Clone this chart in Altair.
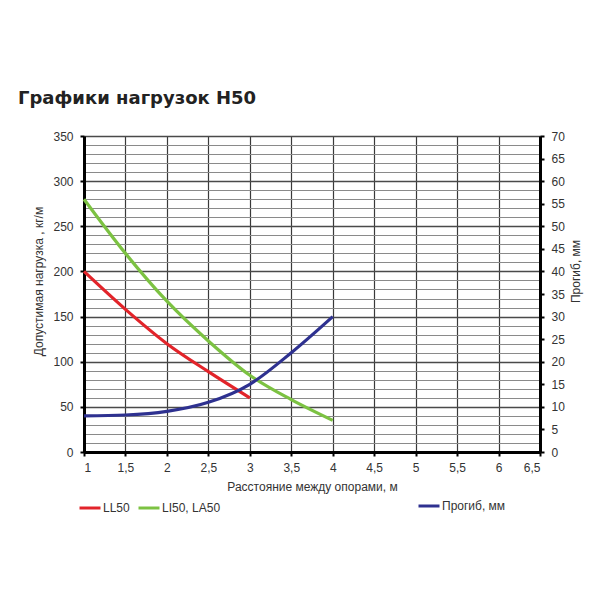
import altair as alt
import pandas as pd

# ---- data ----
x_ll = [1, 1.5, 2, 2.5, 3]
ll50 = [200, 158, 120, 89, 60]

x_li = [1, 1.5, 2, 2.5, 3, 3.5, 4]
li50 = [280, 220, 167, 123, 85, 58, 35]

x_def = [1, 1.5, 2, 2.5, 3, 3.5, 4]
deflection = [8, 8.2, 9, 11, 15, 22, 30]

x_ticks = [1, 1.5, 2, 2.5, 3, 3.5, 4, 4.5, 5, 5.5, 6, 6.5]
left_ticks = list(range(0, 351, 10))
right_ticks = list(range(0, 71, 5))

load_names = ["LL50", "LI50, LA50"]
load_colors = ["#e2242a", "#7cc242"]
def_name = ["Прогиб, мм"]
def_color = ["#2e3190"]

load_df = pd.DataFrame(
    {"x": x_ll + x_li,
     "y": ll50 + li50,
     "series": [load_names[0]] * len(x_ll) + [load_names[1]] * len(x_li)}
)
def_df = pd.DataFrame({"x": x_def, "y": deflection, "series": def_name * len(x_def)})

FONT = "Liberation Sans"
LBL = "#333333"
FS = 12

x_enc = alt.X(
    "x:Q",
    scale=alt.Scale(domain=[1, 6.5], nice=False, zero=False),
    axis=alt.Axis(
        values=x_ticks,
        labelExpr="replace(format(datum.value, '~g'), '.', ',')",
        title="Расстояние между опорами, м",
        grid=True, gridColor="#3a3a3a", gridWidth=1.2,
        domainColor="#000000", domainWidth=3,
        tickColor="#000000", tickWidth=2, tickSize=4,
        labelPadding=6, titlePadding=8,
        labelFont=FONT, labelFontSize=FS, labelColor=LBL,
        titleFont=FONT, titleFontSize=FS, titleFontWeight="normal", titleColor=LBL,
    ),
)

loads = alt.Chart(load_df).mark_line(strokeWidth=3.2, interpolate="monotone").encode(
    x=x_enc,
    y=alt.Y(
        "y:Q",
        scale=alt.Scale(domain=[0, 350], nice=False),
        axis=alt.Axis(
            orient="left",
            values=left_ticks,
            labelExpr="datum.value % 50 === 0 ? datum.label : ''",
            title="Допустимая нагрузка , кг/м",
            titleY=145,
            grid=True,
            gridColor={"condition": {"test": "datum.value % 50 === 0", "value": "#4a4a4a"}, "value": "#8a8a8a"},
            gridWidth={"condition": {"test": "datum.value % 50 === 0", "value": 1.5}, "value": 1.1},
            tickOpacity={"condition": {"test": "datum.value % 50 === 0", "value": 1}, "value": 0},
            domainColor="#000000", domainWidth=3,
            tickColor="#000000", tickWidth=2, tickSize=4,
            labelPadding=7, titlePadding=7,
            labelFont=FONT, labelFontSize=FS, labelColor=LBL,
            titleFont=FONT, titleFontSize=FS, titleFontWeight="normal", titleColor=LBL,
        ),
    ),
    color=alt.Color(
        "series:N",
        scale=alt.Scale(domain=load_names, range=load_colors),
        legend=alt.Legend(
            title=None, orient="none", direction="horizontal",
            legendX=-6, legendY=360,
            symbolType="stroke", symbolSize=441, symbolStrokeWidth=3,
            labelOffset=1, columnPadding=2,
            labelFont=FONT, labelFontSize=FS, labelColor=LBL,
        ),
    ),
)

defl = alt.Chart(def_df).mark_line(strokeWidth=3.2, interpolate="monotone").encode(
    x=x_enc,
    y=alt.Y(
        "y:Q",
        scale=alt.Scale(domain=[0, 70], nice=False),
        axis=alt.Axis(
            orient="right",
            values=right_ticks,
            title="Прогиб, мм",
            titleAngle=270,
            titleBaseline="top",
            titleY=135,
            grid=False,
            domainColor="#000000", domainWidth=3,
            tickColor="#000000", tickWidth=2, tickSize=4,
            labelPadding=7, titlePadding=6,
            labelFont=FONT, labelFontSize=FS, labelColor=LBL,
            titleFont=FONT, titleFontSize=FS, titleFontWeight="normal", titleColor=LBL,
        ),
    ),
    color=alt.Color(
        "series:N",
        scale=alt.Scale(domain=def_name, range=def_color),
        legend=alt.Legend(
            title=None, orient="none", direction="horizontal",
            legendX=333, legendY=358,
            symbolType="stroke", symbolSize=441, symbolStrokeWidth=3,
            labelOffset=1,
            labelFont=FONT, labelFontSize=FS, labelColor=LBL,
        ),
    ),
)

chart = (
    alt.layer(loads, defl)
    .resolve_scale(y="independent", color="independent")
    .properties(
        width=456,
        height=316,
        autosize=alt.AutoSizeParams(type="none"),
        padding={"left": 76, "top": 128, "right": 52, "bottom": 70},
        title=alt.TitleParams(
            "Графики нагрузок H50",
            anchor="start", frame="group", dx=-66, offset=22,
            font="DejaVu Sans", fontSize=18, fontWeight="bold", color="#222222",
        ),
    )
    .configure_view(stroke=None)
    .configure(background="white")
)

chart.save("out.html", embed_options={"renderer": "svg", "actions": False})
